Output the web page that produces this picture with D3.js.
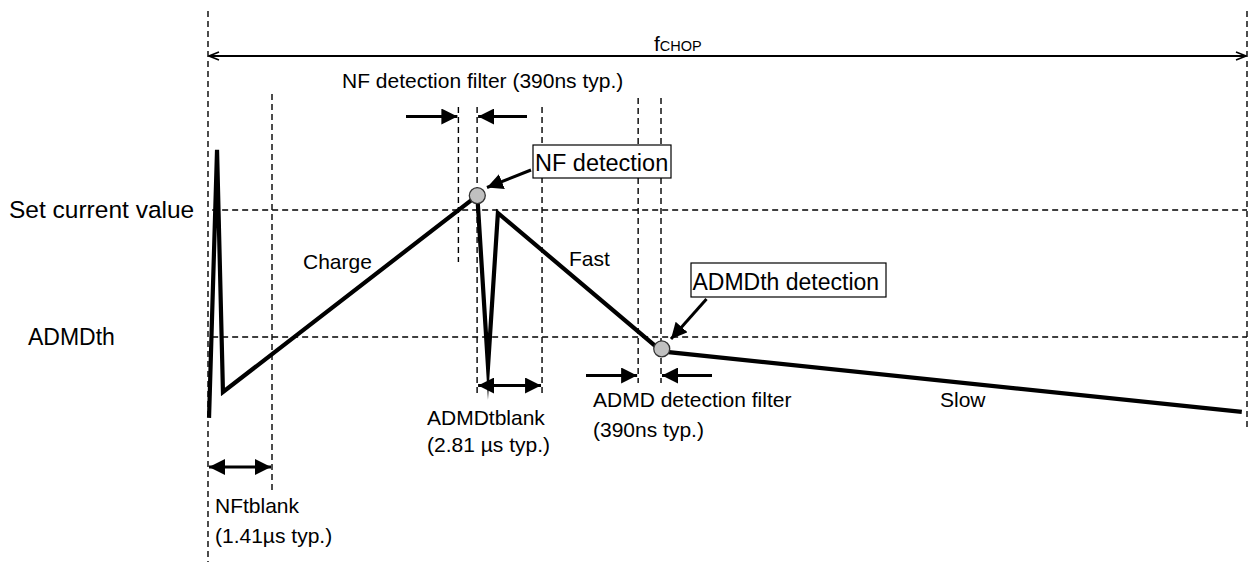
<!DOCTYPE html>
<html>
<head>
<meta charset="utf-8">
<script src="https://cdn.jsdelivr.net/npm/d3@7"></script>
<style>
  html, body { margin: 0; padding: 0; background: #fff; }
  svg { display: block; }
  text { font-family: "Liberation Sans", Arial, Helvetica, sans-serif; fill: #000; }
</style>
</head>
<body>
<svg id="chart" width="1253" height="562"></svg>
<script>
// ---------------- DATA ----------------
// time axis: 0..100 = one chopping period (fCHOP)
// current axis: arbitrary units
const levelNames  = ["Set current value", "ADMDth"];
const levelValues = [70, 40];

// timing markers (vertical dashed lines), in period units
const markerNames = ["start", "NFtblank end", "NF filter start", "NF detect", "ADMDtblank end", "ADMD filter start", "ADMD detect", "end"];
const markerTimes = [0, 6.16, 24.1, 25.9, 32.15, 41.4, 43.6, 100];

// coil current waveform
const waveTimes   = [0.1, 0.87, 1.44, 25.92, 26.95, 27.9, 43.67, 99.5];
const waveCurrent = [20.9, 84.2, 27, 73.4, 33, 69.3, 36.6, 22.3];

// detection points
const detectNames   = ["NF detection", "ADMDth detection"];
const detectTimes   = [25.92, 43.67];
const detectCurrent = [73.4, 37.2];

// phase labels
const phaseNames = ["Charge", "Fast", "Slow"];

// ---------------- LAYOUT ----------------
const svg = d3.select("#chart");
const x = d3.scaleLinear().domain([0, 100]).range([208, 1247]);
const y = d3.scaleLinear().domain([0, 100]).range([506.3, 83]);

const defs = svg.append("defs");
defs.append("marker").attr("id", "fh")
  .attr("viewBox", "0 0 16 16").attr("refX", 16).attr("refY", 8)
  .attr("markerWidth", 16).attr("markerHeight", 16)
  .attr("markerUnits", "userSpaceOnUse").attr("orient", "auto-start-reverse")
  .append("path").attr("d", "M0,0 L16,8 L0,16 Z").attr("fill", "#000");
defs.append("marker").attr("id", "oh")
  .attr("viewBox", "0 0 12 10").attr("refX", 11).attr("refY", 5)
  .attr("markerWidth", 12).attr("markerHeight", 10)
  .attr("markerUnits", "userSpaceOnUse").attr("orient", "auto-start-reverse")
  .append("path").attr("d", "M1,1 L11,5 L1,9").attr("fill", "none")
  .attr("stroke", "#000").attr("stroke-width", 1.6);

const dash = "6,4";

// vertical marker lines: [top, bottom] extents in px
const markerExtents = [[11, 562], [94, 490], [107, 262], [107, 393], [107, 393], [98, 383], [98, 383], [11, 430]];
svg.append("g").selectAll("line").data(markerTimes).join("line")
  .attr("x1", d => x(d)).attr("x2", d => x(d))
  .attr("y1", (d, i) => markerExtents[i][0]).attr("y2", (d, i) => markerExtents[i][1])
  .attr("stroke", "#000").attr("stroke-width", 1.4).attr("stroke-dasharray", dash);

// horizontal level lines
svg.append("g").selectAll("line").data(levelValues).join("line")
  .attr("x1", x(0.4)).attr("x2", x(100))
  .attr("y1", d => y(d)).attr("y2", d => y(d))
  .attr("stroke", "#000").attr("stroke-width", 1.3).attr("stroke-dasharray", dash);

// level labels
const levelLabelX = [9, 28];
const levelLabelSize = [24.5, 23];
svg.append("g").selectAll("text").data(levelNames).join("text")
  .attr("x", (d, i) => levelLabelX[i]).attr("y", (d, i) => y(levelValues[i]) + 8.5)
  .attr("font-size", (d, i) => levelLabelSize[i]).text(d => d);

// fCHOP arrow
svg.append("line").attr("x1", x(0) + 1).attr("x2", x(100) - 1)
  .attr("y1", 56).attr("y2", 56).attr("stroke", "#000").attr("stroke-width", 2)
  .attr("marker-start", "url(#oh)").attr("marker-end", "url(#oh)");
const fch = svg.append("text").attr("x", 654).attr("y", 51).attr("font-size", 21);
fch.append("tspan").text("f");
fch.append("tspan").attr("font-size", 14.5).text("CHOP");

// waveform
const pts = waveTimes.map((t, i) => [x(t), y(waveCurrent[i])]);
svg.append("path").attr("d", d3.line()(pts))
  .attr("fill", "none").attr("stroke", "#000").attr("stroke-width", 4.2)
  .attr("stroke-linejoin", "miter").attr("stroke-miterlimit", 30);

// arrows
const arrows = svg.append("g").attr("stroke", "#000").attr("stroke-width", 3);
function arrowLine(x1, y1, x2, y2, both) {
  const l = arrows.append("line").attr("x1", x1).attr("y1", y1).attr("x2", x2).attr("y2", y2)
    .attr("marker-end", "url(#fh)");
  if (both) l.attr("marker-start", "url(#fh)");
}
// NF detection filter arrows
arrowLine(406, 116.5, x(markerTimes[2]) - 1, 116.5);
arrowLine(527, 116.5, x(markerTimes[3]) + 1, 116.5);
// ADMD detection filter arrows
arrowLine(586, 375.5, x(markerTimes[5]) - 1, 375.5);
arrowLine(712, 375.5, x(markerTimes[6]) + 1, 375.5);
// ADMDtblank double arrow
arrowLine(x(markerTimes[3]) + 1, 385.5, x(markerTimes[4]) - 1, 385.5, true);
// NFtblank double arrow
arrowLine(x(markerTimes[0]) + 1, 467, x(markerTimes[1]) - 1, 467, true);

// callout boxes
const boxes = [
  { x: 533, y: 145, w: 138, h: 33, tx: 535, ty: 171, fs: 23.5, from: [531, 170], to: [487, 187.5] },
  { x: 691, y: 263, w: 195, h: 34, tx: 692.5, ty: 290, fs: 23, from: [706.5, 299], to: [671, 339] }
];
boxes.forEach((b, i) => {
  arrowLine(b.from[0], b.from[1], b.to[0], b.to[1]);
  svg.append("rect").attr("x", b.x).attr("y", b.y).attr("width", b.w).attr("height", b.h)
    .attr("fill", "#fff").attr("stroke", "#000").attr("stroke-width", 1.2);
  svg.append("text").attr("x", b.tx).attr("y", b.ty).attr("font-size", b.fs).text(detectNames[i]);
});

// detection circles
svg.append("g").selectAll("circle").data(detectTimes).join("circle")
  .attr("cx", d => x(d)).attr("cy", (d, i) => y(detectCurrent[i])).attr("r", 8)
  .attr("fill", "#c0c0c0").attr("stroke", "#333").attr("stroke-width", 1.3);

// phase labels
const phasePos = [[303, 269], [569, 266], [940, 407]];
svg.append("g").selectAll("text").data(phaseNames).join("text")
  .attr("x", (d, i) => phasePos[i][0]).attr("y", (d, i) => phasePos[i][1])
  .attr("font-size", 21).text(d => d);

// annotation texts
const notes = [
  { t: "NF detection filter (390ns typ.)", x: 342, y: 88, fs: 21 },
  { t: "ADMDtblank", x: 427, y: 425, fs: 21 },
  { t: "(2.81 µs typ.)", x: 427, y: 452, fs: 21 },
  { t: "ADMD detection filter", x: 593, y: 407, fs: 21 },
  { t: "(390ns typ.)", x: 593, y: 437, fs: 21 },
  { t: "NFtblank", x: 215, y: 512.5, fs: 21 },
  { t: "(1.41µs typ.)", x: 215, y: 543, fs: 21 }
];
svg.append("g").selectAll("text").data(notes).join("text")
  .attr("x", d => d.x).attr("y", d => d.y).attr("font-size", d => d.fs).text(d => d.t);
</script>
</body>
</html>
